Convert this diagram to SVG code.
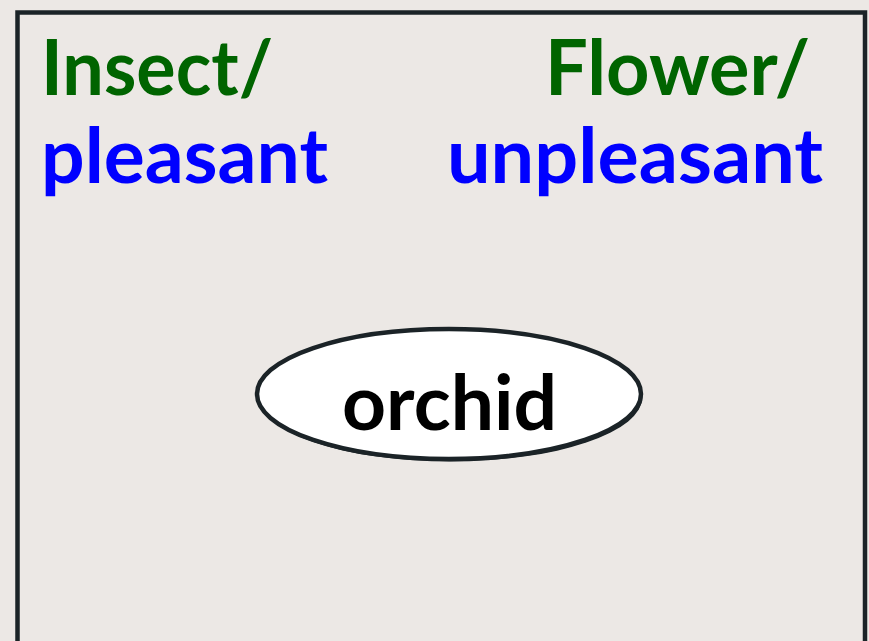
<svg xmlns="http://www.w3.org/2000/svg" width="869" height="641" viewBox="0 0 869 641">
<style>
.t{font-family:Lato,"Open Sans",sans-serif;font-weight:700;font-size:76px}
.g{fill:#006400}
.b{fill:#0000ff}
</style>
<rect width="869" height="641" fill="#ece8e5"/>
<g id="frame">
<rect x="17.5" y="12.5" width="847.5" height="660" fill="#ece8e5" stroke="#1b2327" stroke-width="4.5"/>
</g>
<g id="labels">
<text class="t g" x="41" y="95" textLength="232" lengthAdjust="spacingAndGlyphs">Insect/</text>
<text class="t b" x="41" y="183" textLength="287" lengthAdjust="spacingAndGlyphs">pleasant</text>
<text class="t g" x="545" y="95" textLength="265" lengthAdjust="spacingAndGlyphs">Flower/</text>
<text class="t b" x="447" y="183" textLength="376" lengthAdjust="spacingAndGlyphs">unpleasant</text>
</g>
<g id="orchid">
<ellipse cx="450.5" cy="397" rx="192" ry="64.5" fill="#1b2327"/>
<ellipse cx="449" cy="394" rx="192" ry="65" fill="#ffffff" stroke="#1b2327" stroke-width="4.5"/>
<text class="t" x="342" y="430" textLength="215" lengthAdjust="spacingAndGlyphs" fill="#000">orchid</text>
</g>
</svg>
